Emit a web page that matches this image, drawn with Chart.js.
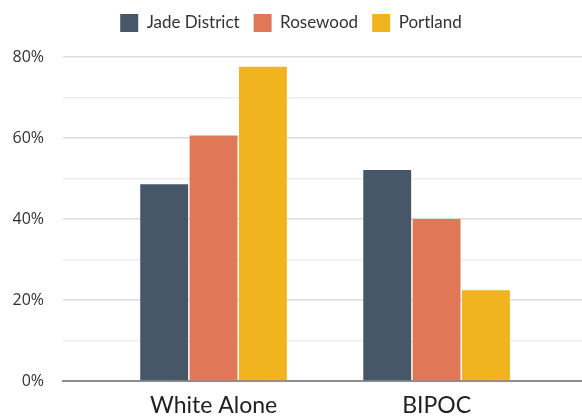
<!DOCTYPE html>
<html>
<head>
<meta charset="utf-8">
<script src="https://cdn.jsdelivr.net/npm/chart.js@4"></script>
<style>
  html, body { margin: 0; padding: 0; background: #ffffff; }
  #wrap { width: 582px; height: 418px; }
</style>
</head>
<body>
<div id="wrap"><canvas id="chart" width="582" height="418"></canvas></div>
<script>
// Share of population by race, per area
const categories = ['White Alone', 'BIPOC'];
const seriesNames = ['Jade District', 'Rosewood', 'Portland'];
const jadeDistrict = [48.6, 52.1];
const rosewood = [60.6, 40.0];
const portland = [77.6, 22.4];
const yTicks = [0, 20, 40, 60, 80];

const colors = ['#485669', '#e07858', '#f2b41e'];
const values = [jadeDistrict, rosewood, portland];

const datasets = seriesNames.map((name, s) => ({
  label: name,
  data: values[s].map((v, i) => ({ x: i, y: v })),
  backgroundColor: colors[s],
  borderWidth: 0,
  categoryPercentage: 0.664,
  barPercentage: 0.97
}));

// Leave extra room between the legend and the plot
const legendGap = {
  id: 'legendGap',
  beforeInit(chart) {
    const legend = chart.legend;
    if (!legend) return;
    const fit = legend.fit;
    legend.fit = function () {
      fit.call(this);
      this.height += 15;
    };
  }
};

new Chart(document.getElementById('chart'), {
  type: 'bar',
  data: { datasets },
  plugins: [legendGap],
  options: {
    responsive: false,
    animation: false,
    layout: { padding: { left: 0, right: 0, top: 0, bottom: 0 } },
    plugins: {
      tooltip: { enabled: false },
      legend: {
        position: 'top',
        labels: {
          boxWidth: 18,
          boxHeight: 18,
          padding: 14,
          color: '#333333',
          font: { family: 'Lato', size: 17 }
        }
      }
    },
    scales: {
      x: {
        type: 'linear',
        offset: false,
        min: -0.675,
        max: 1.652,
        grid: { display: false, offset: false },
        border: { display: true, color: '#8c8c8c', width: 2 },
        afterBuildTicks: (axis) => { axis.ticks = categories.map((c, i) => ({ value: i })); },
        afterFit: (axis) => { axis.height = 37; },
        ticks: {
          color: '#222222',
          padding: 3,
          maxRotation: 0,
          autoSkip: false,
          font: { family: 'Lato', size: 23 },
          callback: (v) => categories[v] ?? ''
        }
      },
      y: {
        min: 0,
        max: 80,
        border: { display: false },
        afterFit: (axis) => { axis.width = 63; },
        afterBuildTicks: (axis) => {
          const t = [];
          for (let v = 0; v <= 80; v += 10) t.push({ value: v });
          axis.ticks = t;
        },
        grid: {
          drawTicks: false,
          lineWidth: 1.5,
          color: (ctx) => (ctx.tick && ctx.tick.value % 20 === 0) ? '#dcdcdc' : '#ededed'
        },
        ticks: {
          padding: 19,
          color: '#333333',
          font: { family: 'Open Sans', size: 16 },
          callback: (v) => yTicks.includes(v) ? v + '%' : ''
        }
      }
    }
  }
});
</script>
</body>
</html>
